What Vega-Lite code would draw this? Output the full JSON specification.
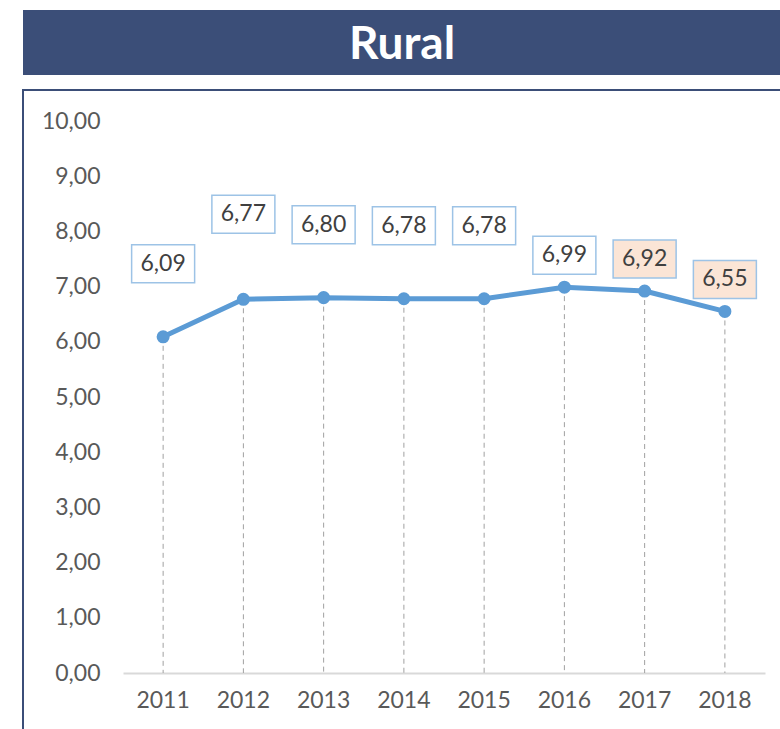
{
  "$schema": "https://vega.github.io/schema/vega-lite/v6.json",
  "padding": {"left": 22, "top": 10, "right": 0, "bottom": 0},
  "background": "white",
  "config": {
    "locale": {"number": {"decimal": ",", "thousands": ".", "grouping": [3], "currency": ["", ""]}},
    "concat": {"spacing": 14},
    "font": "Lato"
  },
  "datasets": {
    "serie": [
      {"anio": 2011, "valor": 6.09, "estado": "definitivo"},
      {"anio": 2012, "valor": 6.77, "estado": "definitivo"},
      {"anio": 2013, "valor": 6.80, "estado": "definitivo"},
      {"anio": 2014, "valor": 6.78, "estado": "definitivo"},
      {"anio": 2015, "valor": 6.78, "estado": "definitivo"},
      {"anio": 2016, "valor": 6.99, "estado": "definitivo"},
      {"anio": 2017, "valor": 6.92, "estado": "provisional"},
      {"anio": 2018, "valor": 6.55, "estado": "provisional"}
    ],
    "titulo": [{"texto": "Rural"}]
  },
  "vconcat": [
    {
      "width": 758,
      "height": 65,
      "data": {"name": "titulo"},
      "view": {"fill": "#3b4e78", "stroke": null},
      "mark": {"type": "text", "color": "white", "font": "Lato", "fontWeight": "bold", "fontSize": 46, "baseline": "middle", "align": "center", "dy": 2},
      "encoding": {"text": {"field": "texto", "type": "nominal"}}
    },
    {
      "width": 758,
      "height": 641,
      "data": {"name": "serie"},
      "view": {"stroke": "#3b4e78", "strokeWidth": 2, "fill": null},
      "encoding": {
        "x": {
          "field": "anio", "type": "ordinal",
          "scale": {"range": [100, 742], "paddingInner": 0, "paddingOuter": 0},
          "axis": {"title": null, "orient": "bottom", "offset": -58, "labelAngle": 0, "domainColor": "#d9d9d9", "domainWidth": 2, "ticks": false, "tickSize": 0, "labelPadding": 16, "labelFontSize": 23, "labelColor": "#595959", "labelFont": "Lato", "grid": false}
        },
        "y": {
          "field": "valor", "type": "quantitative",
          "scale": {"domain": [0, 10], "range": [583, 31], "nice": false},
          "axis": {"title": null, "orient": "left", "offset": -77, "domain": false, "ticks": false, "tickSize": 0, "labelPadding": 0, "values": [0,1,2,3,4,5,6,7,8,9,10], "format": ".2f", "labelFontSize": 23, "labelColor": "#595959", "labelFont": "Lato", "grid": false}
        }
      },
      "layer": [
        {
          "mark": {"type": "rule", "strokeDash": [5, 4], "color": "#a0a0a0", "strokeWidth": 1},
          "encoding": {"y2": {"datum": 0}}
        },
        {
          "mark": {"type": "line", "color": "#5b9bd5", "strokeWidth": 5, "strokeCap": "round", "strokeJoin": "round"},
          "encoding": {}
        },
        {
          "mark": {"type": "point", "filled": true, "color": "#5b9bd5", "size": 170, "opacity": 1},
          "encoding": {}
        },
        {
          "mark": {"type": "point", "shape": "M-1,-0.603H1V0.603H-1Z", "size": 3969, "stroke": "#9dc3e6", "strokeWidth": 1.5, "opacity": 1, "fillOpacity": 1,
            "yOffset": {"expr": "datum.anio == 2012 ? -85 : (datum.anio >= 2016 ? -32 : -73)"}},
          "encoding": {
            "fill": {"field": "estado", "type": "nominal", "scale": {"domain": ["definitivo", "provisional"], "range": ["#ffffff", "#fbe5d6"]}, "legend": null}
          }
        },
        {
          "mark": {"type": "text", "fontSize": 23, "color": "#404040", "baseline": "middle", "align": "center", "font": "Lato",
            "yOffset": {"expr": "datum.anio == 2012 ? -85 : (datum.anio >= 2016 ? -32 : -73)"}},
          "encoding": {"text": {"field": "valor", "type": "quantitative", "format": ".2f"}}
        }
      ]
    }
  ]
}
